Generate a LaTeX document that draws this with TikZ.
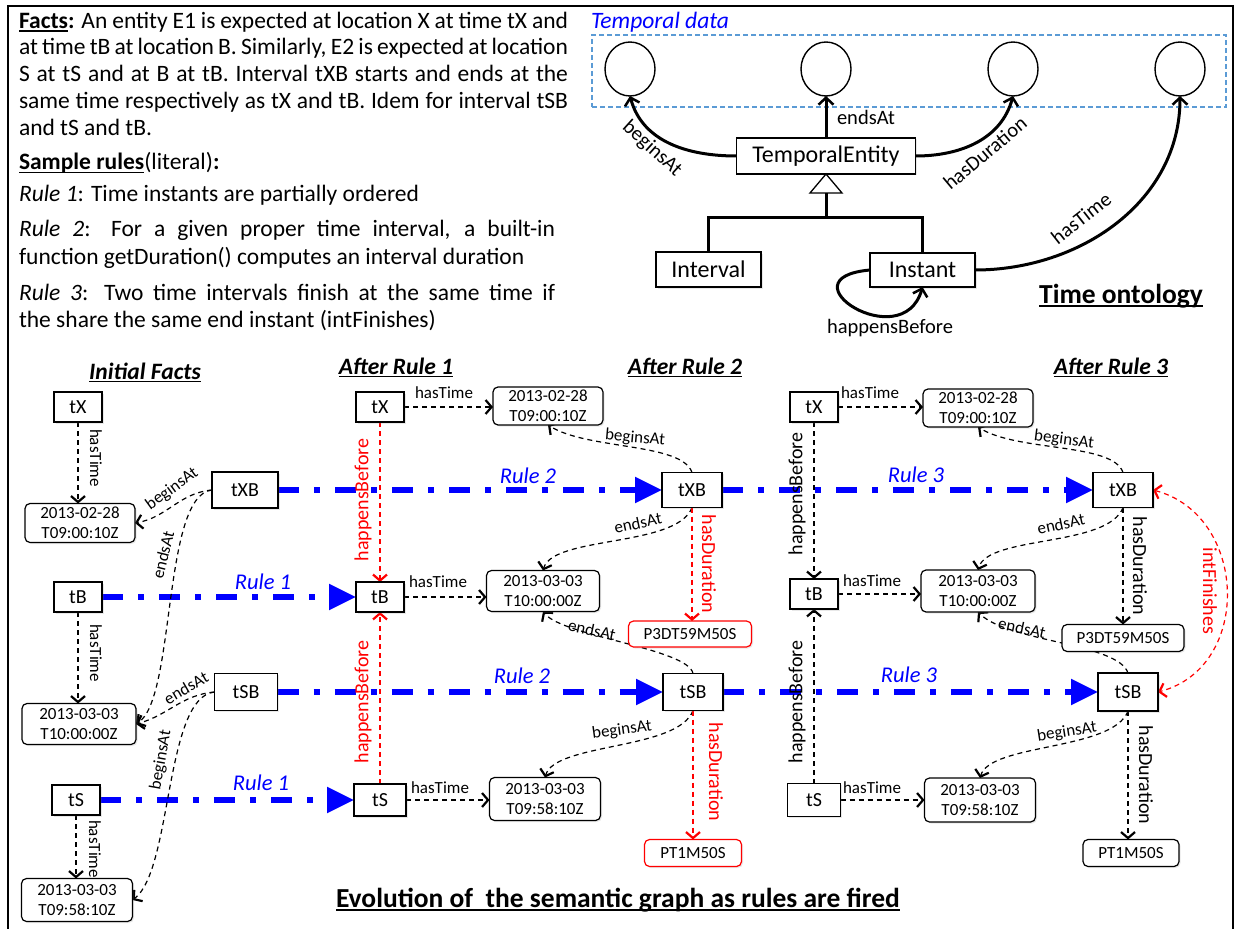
\documentclass[tikz,border=0pt]{standalone}
\usepackage{fontspec}
\setmainfont{Carlito}
\usetikzlibrary{arrows.meta,calc,shadows,shapes.geometric}
\pgfdeclarelayer{edges}
\pgfsetlayers{edges,main}

\definecolor{rulblue}{RGB}{0,0,255}
\definecolor{hotred}{RGB}{255,0,0}
\definecolor{boxblue}{RGB}{91,155,213}

\newcommand\fsz[2]{\fontsize{#1}{#2}\selectfont}
% underline at a fixed depth below the baseline
\newcommand\uln[1]{\leavevmode\setbox0\hbox{#1}\rlap{\rule[-0.14em]{\wd0}{0.065em}}\box0}

\tikzset{
  every node/.style={inner sep=0pt, outer sep=0pt},
  softshadow/.style={drop shadow={opacity=0.18, shadow xshift=1.5pt, shadow yshift=-1.5pt}},
  inst/.style={draw, line width=1.2pt, fill=white, softshadow, minimum width=48pt, minimum height=30pt, font=\fsz{20}{22}},
  ival/.style={inst, minimum width=62pt, minimum height=36pt},
  datebox/.style={draw, line width=1.2pt, fill=white, softshadow, rounded corners=5pt, align=center, font=\fsz{17}{20}, minimum width=111pt, minimum height=40pt},
  durbox/.style={draw, line width=1.2pt, fill=white, softshadow, rounded corners=5pt, font=\fsz{17}{20}, minimum height=27pt},
  lbl/.style={font=\fsz{17}{19}},
  vlbl/.style={font=\fsz{20}{22}},
  rulelbl/.style={font=\fsz{22.5}{25}\itshape, text=rulblue},
  head/.style={anchor=base, font=\fsz{23.5}{26}\bfseries\itshape},
  bigtitle/.style={anchor=base, font=\fsz{27.5}{30}\bfseries},
  >={Straight Barb[length=6pt,width=14pt,line width=2.2pt]},
  link/.style={line width=1.2pt, dash pattern=on 5pt off 4pt, ->},
  redlink/.style={link, draw=hotred},
  ruleflow/.style={draw=rulblue, line width=5.5pt, dash pattern=on 21pt off 15pt on 6pt off 15pt, -{Triangle[length=27pt,width=25pt]}},
  ont/.style={line width=3pt},
  ontarrow/.style={ont, -{Straight Barb[length=7pt,width=15pt,line width=2.5pt]}},
  obox/.style={draw, line width=1.5pt, fill=white, softshadow, font=\fsz{24}{26}},
  circ/.style={draw, line width=1.4pt, ellipse, minimum width=50pt, minimum height=54pt},
  olbl/.style={font=\fsz{20.5}{22}},
  para/.style={anchor=base west, align=justify, font=\fsz{23.5}{26.7}},
}

\begin{document}
\begin{tikzpicture}[x=1pt,y=1pt]
\useasboundingbox (0,0) rectangle (1238,-928);
\clip (0,0) rectangle (1238,-928);
\hyphenpenalty=10000 \exhyphenpenalty=10000

% outer frame
\draw[line width=2.5pt] (8,-940) -- (8,-6) -- (1233,-6) -- (1233,-940);

% ---------- explanatory text ----------
\node[para, text width=549pt] (facts) at (19,-28.3) {\uln{\textbf{Facts}}\textbf{:} An entity E1 is expected at location X at time tX and\linebreak at time tB at location B. Similarly, E2 is expected at location\linebreak S at tS and at B at tB. Interval tXB starts and ends at the\linebreak same time respectively as tX and tB. Idem for interval tSB\linebreak and tS and tB.};
\node[para, text width=549pt] (rules) at (19,-170) {\uln{\textbf{Sample rules}}(literal)\textbf{:}};
\node[para, text width=549pt] (rule1) at (19,-201.7) {\textit{Rule 1}: Time instants are partially ordered};
\node[para, text width=536pt, font=\fsz{23.5}{28}] (rule2) at (19,-236.7) {\textit{Rule 2}: For a given proper time interval, a built-in\linebreak function getDuration() computes an interval duration};
\node[para, text width=536pt, font=\fsz{23.5}{27.5}] (rule3) at (19,-300) {\textit{Rule 3}: Two time intervals finish at the same time if\linebreak the share the same end instant (intFinishes)};

% ---------- time ontology ----------
\node[anchor=west, font=\fsz{23.5}{26}\itshape, text=rulblue] (tdata) at (591,-22) {Temporal data};
\node[draw=boxblue, line width=1.2pt, dash pattern=on 5pt off 3pt, minimum width=634pt, minimum height=72pt] (tbox) at (909,-71) {};
\node[circ] (c1) at (630,-69) {};
\node[circ] (c2) at (826,-69) {};
\node[circ] (c3) at (1013,-69) {};
\node[circ] (c4) at (1180,-69) {};
\node[obox, minimum width=179pt, minimum height=36pt] (te) at (826,-156) {TemporalEntity};
\node[obox, minimum width=105pt, minimum height=35pt] (iv) at (708.5,-269.5) {Interval};
\node[obox, minimum width=105pt, minimum height=34pt] (ins) at (922.5,-270) {Instant};

\draw[ontarrow] (te.north) -- (c2.south);
\node[olbl] (oe) at (866,-117) {endsAt};
\draw[ontarrow] (te.west) to[out=180,in=-75] (c1.south);
\node[olbl, rotate=-42] (ob) at (652,-149) {beginsAt};
\draw[ontarrow] (te.east) to[out=0,in=-105] (c3.south);
\node[olbl, rotate=40] (od) at (985,-153) {hasDuration};
\draw[ontarrow] (ins.east) to[out=0,in=-90] (c4.south);
\node[olbl, rotate=38] (ot) at (1081,-218) {hasTime};
\draw[ontarrow] (ins.west) .. controls +(-90,-8) and +(-20,-70) .. (ins.south);
\node[olbl] (ohb) at (890,-328) {happensBefore};

% generalisation: Interval and Instant specialise TemporalEntity
\draw[line width=1.3pt, fill=white] (te.south) -- ++(-16,-19) -- ++(32,0) -- cycle;
\coordinate (bar) at ($(te.south)+(0,-43)$);
\draw[ont] ($(te.south)+(0,-19)$) -- (bar);
\draw[ont] (iv.north) |- (bar) -| (ins.north);
\node[bigtitle] (ontt) at (1121,-303) {\uln{Time ontology}};

% ---------- headers ----------
\node[head] (h0) at (145,-379) {\uln{Initial Facts}};
\node[head] (h1) at (396,-374) {\uln{After Rule 1}};
\node[head] (h2) at (685,-374) {\uln{After Rule 2}};
\node[head] (h3) at (1111,-374) {\uln{After Rule 3}};
\node[bigtitle] (evo) at (618,-907) {\uln{Evolution of~~the semantic graph as rules are fired}};

% ---------- initial facts ----------
\node[inst] (iX) at (78,-407) {tX};
\node[datebox, minimum width=110pt, minimum height=39pt] (iD1) at (80,-523) {2013-02-28\\T09:00:10Z};
\node[ival, minimum width=66pt, minimum height=36pt] (iXB) at (245,-490) {tXB};
\node[inst] (iB) at (78,-597) {tB};
\node[datebox, minimum width=114pt, minimum height=41pt] (iD2) at (79,-724) {2013-03-03\\T10:00:00Z};
\node[ival, minimum width=63pt, minimum height=37pt] (iSB) at (246,-692) {tSB};
\node[inst] (iS) at (76,-800) {tS};
\node[datebox, minimum width=111pt, minimum height=43pt] (iD3) at (77,-900) {2013-03-03\\T09:58:10Z};

% ---------- after rule 1 ----------
\node[inst] (aX) at (380,-407) {tX};
\node[datebox, minimum width=110pt, minimum height=38pt] (aD1) at (548,-406) {2013-02-28\\T09:00:10Z};
\node[inst] (aB) at (380,-597) {tB};
\node[datebox, minimum width=113pt, minimum height=41pt] (aD2) at (543,-591) {2013-03-03\\T10:00:00Z};
\node[inst, minimum width=52pt, minimum height=32pt] (aS) at (380,-800) {tS};
\node[datebox, minimum width=111pt, minimum height=43pt] (aD3) at (545,-799) {2013-03-03\\T09:58:10Z};

% ---------- after rule 2 ----------
\node[ival, minimum width=60pt, minimum height=35pt] (bXB) at (692,-490) {tXB};
\node[ival, minimum width=60pt, minimum height=37pt] (bSB) at (693,-692) {tSB};
\node[durbox, draw=hotred, minimum width=123pt, minimum height=26pt] (bP) at (690,-634) {P3DT59M50S};
\node[durbox, draw=hotred, minimum width=97pt] (bPT) at (693,-853) {PT1M50S};

% ---------- after rule 3 ----------
\node[inst] (cX) at (814,-407) {tX};
\node[datebox, minimum width=110pt, minimum height=38pt] (cD1) at (978,-408) {2013-02-28\\T09:00:10Z};
\node[inst] (cB) at (814,-594) {tB};
\node[datebox, minimum width=114pt, minimum height=42pt] (cD2) at (978,-591) {2013-03-03\\T10:00:00Z};
\node[inst, minimum width=53pt, minimum height=33pt] (cS) at (814,-800) {tS};
\node[datebox, minimum width=111pt, minimum height=44pt] (cD3) at (980,-800) {2013-03-03\\T09:58:10Z};
\node[ival, minimum width=60pt, minimum height=35pt] (cXB) at (1123,-490) {tXB};
\node[ival, minimum width=60pt, minimum height=38pt] (cSB) at (1128,-692) {tSB};
\node[durbox, minimum width=122pt] (cP) at (1123,-638) {P3DT59M50S};
\node[durbox, minimum width=96pt] (cPT) at (1131,-853) {PT1M50S};

% ---------- labels ----------
\node[rulelbl] (r1a) at (263,-582) {Rule 1};
\node[rulelbl] (r1b) at (261,-783) {Rule 1};
\node[rulelbl] (r2a) at (528,-476) {Rule 2};
\node[rulelbl] (r2b) at (522,-676) {Rule 2};
\node[rulelbl] (r3a) at (916,-475) {Rule 3};
\node[rulelbl] (r3b) at (909,-675) {Rule 3};

\node[lbl, rotate=-90] (ht1) at (96,-458) {hasTime};
\node[lbl, rotate=-90] (ht2) at (96,-653) {hasTime};
\node[lbl, rotate=-90] (ht3) at (95,-849) {hasTime};
\node[lbl, rotate=36] (b1) at (172,-489) {beginsAt};
\node[lbl, rotate=76] (e1) at (163,-555) {endsAt};
\node[lbl, rotate=30] (e2) at (186,-688) {endsAt};
\node[lbl, rotate=80] (b2) at (161,-760) {beginsAt};

\node[lbl] (ht4) at (444,-393) {hasTime};
\node[lbl] (ht5) at (438,-582) {hasTime};
\node[lbl] (ht6) at (440,-788) {hasTime};
\node[vlbl, text=hotred, rotate=90] (hb1) at (363,-500) {happensBefore};
\node[vlbl, text=hotred, rotate=90] (hb2) at (363,-702) {happensBefore};

\node[lbl, rotate=-5] (b3) at (635,-438) {beginsAt};
\node[lbl, rotate=12] (e3) at (638,-523) {endsAt};
\node[lbl, rotate=-12] (e4) at (592,-630) {endsAt};
\node[lbl, rotate=8] (b4) at (622,-730) {beginsAt};
\node[vlbl, text=hotred, rotate=-90] (hd1) at (709,-564) {hasDuration};
\node[vlbl, text=hotred, rotate=-90] (hd2) at (716,-772) {hasDuration};

\node[lbl] (ht7) at (870,-393) {hasTime};
\node[lbl] (ht8) at (872,-581) {hasTime};
\node[lbl] (ht9) at (872,-788) {hasTime};
\node[vlbl, rotate=90] (hb3) at (797,-494) {happensBefore};
\node[vlbl, rotate=90] (hb4) at (797,-702) {happensBefore};
\node[lbl, rotate=-7] (b5) at (1064,-440) {beginsAt};
\node[lbl, rotate=12] (e5) at (1061,-524) {endsAt};
\node[lbl, rotate=-12] (e6) at (1022,-628) {endsAt};
\node[lbl, rotate=9] (b6) at (1067,-732) {beginsAt};
\node[vlbl, rotate=-90] (hd3) at (1140,-566) {hasDuration};
\node[vlbl, rotate=-90] (hd4) at (1146,-775) {hasDuration};
\node[vlbl, text=hotred, rotate=-90] (intf) at (1210,-591) {intFinishes};

% ---------- connectors (drawn beneath the boxes) ----------
\begin{pgfonlayer}{edges}
  % rule firings
  \draw[ruleflow] (iB.east) -- (aB.west);
  \draw[ruleflow] (iS.east) -- (aS.west);
  \draw[ruleflow] (iXB.east) -- (bXB.west);
  \draw[ruleflow] (iSB.east) -- (bSB.west);
  \draw[ruleflow] (bXB.east) -- (cXB.west);
  \draw[ruleflow] (bSB.east) -- (cSB.west);

  % initial facts
  \draw[link] (iX.south) -- (iX.south |- iD1.north);
  \draw[link] (iB.south) -- (iB.south |- iD2.north);
  \draw[link] (iS.south) -- (iS.south |- iD3.north);
  \draw[link] (iXB.west) to[out=185,in=10] (iD1.east);
  \draw[link] (iXB.west) .. controls +(-50,-5) and +(40,25) .. (iD2.east);
  \draw[link] (iSB.west) to[out=185,in=15] (iD2.east);
  \draw[link] (iSB.west) .. controls +(-50,-5) and +(40,30) .. (iD3.east);

  % after rule 1
  \draw[link] (aX.east) -- (aX.east -| aD1.west);
  \draw[link] (aB.east) -- (aB.east -| aD2.west);
  \draw[link] (aS.east) -- (aS.east -| aD3.west);
  \draw[redlink] (aX.south) -- (aX.south |- aB.north);
  \draw[redlink] (aS.north) -- (aS.north |- aB.south);

  % after rule 2
  \draw[link] (bXB.north) .. controls +(-10,30) and +(40,-25) .. (aD1.south);
  \draw[link] (bXB.south) .. controls +(-15,-40) and +(10,35) .. (aD2.north);
  \draw[link] (bSB.north) .. controls +(-5,25) and +(20,-25) .. (aD2.south);
  \draw[link] (bSB.south) .. controls +(-15,-40) and +(10,35) .. (aD3.north);
  \draw[redlink] (bXB.south) -- (bXB.south |- bP.north);
  \draw[redlink] (bSB.south) -- (bSB.south |- bPT.north);

  % after rule 3
  \draw[link] (cX.east) -- (cX.east -| cD1.west);
  \draw[link] (cB.east) -- (cB.east -| cD2.west);
  \draw[link] (cS.east) -- (cS.east -| cD3.west);
  \draw[link] (cX.south) -- (cX.south |- cB.north);
  \draw[link] (cS.north) -- (cS.north |- cB.south);
  \draw[link] (cXB.north) .. controls +(-10,30) and +(40,-25) .. (cD1.south);
  \draw[link] (cXB.south) .. controls +(-15,-40) and +(10,35) .. (cD2.north);
  \draw[link] (cSB.north) .. controls +(-10,30) and +(30,-30) .. (cD2.south);
  \draw[link] (cSB.south) .. controls +(-15,-40) and +(10,35) .. (cD3.north);
  \draw[link] (cXB.south) -- (cXB.south |- cP.north);
  \draw[link] (cSB.south) -- (cSB.south |- cPT.north);
  \draw[redlink, <->] (cXB.east) .. controls +(95,-25) and +(95,25) .. (cSB.east);
\end{pgfonlayer}
\end{tikzpicture}
\end{document}
